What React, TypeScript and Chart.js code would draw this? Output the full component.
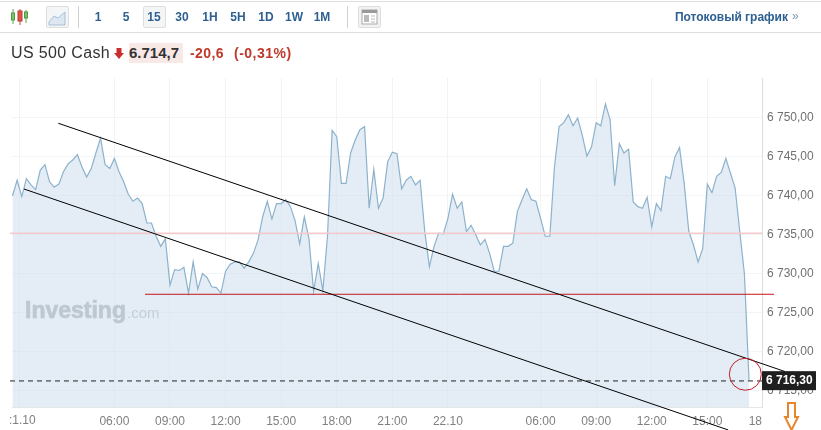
import React, { useEffect, useRef } from "react";
import { Chart, registerables } from "chart.js";

Chart.register(...registerables);

const prices = [
  6740.0, 6742.0, 6739.9, 6742.2, 6741.4, 6740.8, 6743.3, 6744.0, 6741.8, 6741.1,
  6741.5, 6743.1, 6744.1, 6744.6, 6745.3, 6743.7, 6742.4, 6743.5, 6745.5, 6747.4,
  6744.0, 6743.5, 6744.8, 6743.1, 6741.8, 6740.2, 6739.3, 6739.7, 6739.0, 6736.5,
  6736.5, 6734.8, 6733.5, 6734.5, 6728.5, 6730.5, 6730.4, 6730.8, 6727.5, 6731.5,
  6728.0, 6730.0, 6729.5, 6728.3, 6728.2, 6727.5, 6730.3, 6731.2, 6731.5, 6731.5,
  6730.7, 6731.5, 6732.6, 6734.3, 6737.3, 6739.3, 6737.0, 6739.0, 6739.0, 6739.5,
  6738.6, 6736.8, 6733.8, 6737.3, 6734.5, 6727.7, 6731.3, 6727.8, 6734.8, 6748.4,
  6747.6, 6741.6, 6741.6, 6745.5, 6747.2, 6748.5, 6748.9, 6738.4, 6743.4, 6738.4,
  6739.7, 6744.4, 6745.6, 6745.4, 6740.9, 6742.0, 6742.5, 6741.4, 6742.0, 6735.4,
  6730.9, 6733.5, 6735.2, 6735.1, 6737.1, 6740.2, 6738.4, 6739.2, 6735.4, 6736.2,
  6735.0, 6733.7, 6734.4, 6732.6, 6730.3, 6730.3, 6733.5, 6733.5, 6733.9, 6738.0,
  6739.5, 6740.9, 6739.5, 6739.3, 6737.1, 6734.8, 6734.8, 6743.7, 6748.9, 6749.4,
  6750.4, 6749.0, 6750.0, 6747.8, 6745.1, 6746.3, 6749.4, 6749.0, 6751.8, 6749.8,
  6741.3, 6746.7, 6745.5, 6746.0, 6739.2, 6738.6, 6738.4, 6739.8, 6736.0, 6739.0,
  6738.1, 6742.5, 6742.2, 6745.0, 6746.2, 6741.6, 6735.4, 6733.7, 6731.5, 6733.2,
  6741.5, 6740.4, 6742.5, 6743.0, 6744.8, 6742.9, 6741.0, 6735.4, 6730.0, 6716.3,
];
const yTicks = [6715, 6720, 6725, 6730, 6735, 6740, 6745, 6750];
const xTickPositions = [1.47, 22, 34, 46, 58, 70, 82, 94, 114, 126, 138, 150, 161.8];
const xTickLabels = [
  ":1.10", "06:00", "09:00", "12:00", "15:00", "18:00", "21:00", "22.10",
  "06:00", "09:00", "12:00", "15:00", "18    ",
];
const upperTrend = [{ x: 9.89, y: 6749.32 }, { x: 166.8, y: 6717.4 }];
const lowerTrend = [{ x: 2.48, y: 6740.87 }, { x: 154.5, y: 6709.9 }];
const redLevel = [{ x: 28.6, y: 6727.34 }, { x: 164.4, y: 6727.34 }];
const pinkLevel = [{ x: -0.54, y: 6735.18 }, { x: 161.8, y: 6735.18 }];
const lastLevel = [{ x: -0.54, y: 6716.2 }, { x: 161.8, y: 6716.2 }];
const circleMark = [{ x: 158.2, y: 6717.06 }];
const lastLabel = "6 716,30";
const timeframes = ["1", "5", "15", "30", "1H", "5H", "1D", "1W", "1M"];
const FONT = '"Liberation Sans", Arial, sans-serif';

const overlay: any = {
  id: "overlay",
  beforeDatasetsDraw(chart: any) {
    const c = chart.ctx;
    c.save();
    c.textBaseline = "alphabetic";
    c.textAlign = "left";
    c.fillStyle = "#a9adb1";
    c.strokeStyle = "#a9adb1";
    c.lineWidth = 0.7;
    c.font = `bold 23px ${FONT}`;
    c.fillText("Investing", 25, 318);
    c.strokeText("Investing", 25, 318);
    const w = c.measureText("Investing").width;
    c.font = `15px ${FONT}`;
    c.fillStyle = "#b4bbc2";
    c.fillText(".com", 26 + w, 318);
    c.restore();
  },
  afterDraw(chart: any) {
    const c = chart.ctx;
    const y = chart.scales.y.getPixelForValue(prices[prices.length - 1]);
    c.save();
    c.fillStyle = "#808080";
    c.font = `12px ${FONT}`;
    c.textAlign = "center";
    c.textBaseline = "middle";
    c.fillText(xTickLabels[0], chart.scales.x.getPixelForValue(xTickPositions[0]) + 3, 421);
    c.fillStyle = "#1f1f1f";
    c.fillRect(762, y - 9, 54, 19);
    c.fillStyle = "#fff";
    c.font = `bold 12px ${FONT}`;
    c.textAlign = "left";
    c.fillText(lastLabel, 766, y + 1);
    c.strokeStyle = "#e8862e";
    c.lineWidth = 2;
    c.beginPath();
    c.moveTo(788, 403);
    c.lineTo(795, 403);
    c.lineTo(795, 417);
    c.lineTo(798, 417);
    c.lineTo(791.5, 430);
    c.lineTo(785, 417);
    c.lineTo(788, 417);
    c.closePath();
    c.stroke();
    c.restore();
  },
};

function Candles() {
  return (
    <svg width="20" height="18" style={{ position: "absolute", left: 10, top: 8 }}>
      <path d="M3 1V16" stroke="#5aa84e" />
      <rect x="1.5" y="5" width="3" height="7" fill="#7cc36a" stroke="#4e9a44" />
      <path d="M10 1V17" stroke="#c9463e" />
      <rect x="8" y="3" width="4" height="10" fill="#e0554b" stroke="#b93c34" />
      <path d="M16 2V15" stroke="#5aa84e" />
      <rect x="14.5" y="4" width="3" height="6" fill="#7cc36a" stroke="#4e9a44" />
    </svg>
  );
}

function Header() {
  const blue = "#2d5f91";
  const box: React.CSSProperties = {
    position: "absolute", top: 6, height: 20, border: "1px solid #dedede",
    background: "#f4f5f6", borderRadius: 2, boxSizing: "content-box",
  };
  return (
    <div style={{ position: "absolute", left: 0, top: 0, width: 821, height: 75, fontFamily: FONT }}>
      <div style={{ position: "absolute", left: 0, top: 1, width: 821, height: 1, background: "#dedede" }} />
      <div style={{ position: "absolute", left: 0, top: 32, width: 821, height: 1, background: "#dedede" }} />
      <Candles />
      <div style={{ ...box, left: 46, width: 21 }}>
        <svg width="21" height="20">
          <path d="M2 15L7 9L11 11L18 5V18H2Z" fill="#dce7f2" stroke="#a9bfd6" />
        </svg>
      </div>
      <div style={{ position: "absolute", left: 78, top: 6, width: 1, height: 22, background: "#d0d0d0" }} />
      <div style={{ ...box, left: 143, width: 21 }} />
      {timeframes.map((t, i) => (
        <div key={t} style={{
          position: "absolute", left: 98 + i * 28 - 14, width: 28, top: 9, textAlign: "center",
          fontSize: 12, lineHeight: "16px", fontWeight: 700, color: blue,
        }}>{t}</div>
      ))}
      <div style={{ position: "absolute", left: 347, top: 6, width: 1, height: 22, background: "#d0d0d0" }} />
      <div style={{ ...box, left: 358, width: 21, background: "#f2f2f2" }}>
        <svg width="21" height="20">
          <rect x="3" y="3" width="15" height="14" fill="#fff" stroke="#aaa" />
          <rect x="3" y="3" width="15" height="3" fill="#999" />
          <rect x="5" y="8" width="5" height="7" fill="#bbb" />
          <path d="M12 9H16M12 12H16M12 15H16" stroke="#bbb" />
        </svg>
      </div>
      <div style={{
        position: "absolute", left: 600, width: 188, top: 9, textAlign: "right",
        fontSize: 12, lineHeight: "16px", fontWeight: 700, color: blue,
      }}>Потоковый график</div>
      <div style={{ position: "absolute", left: 792, top: 8, fontSize: 12, lineHeight: "16px", color: "#7f9ab5" }}>»</div>

      <div style={{ position: "absolute", left: 11, top: 44, fontSize: 16, lineHeight: "18px", color: "#333", letterSpacing: 0.35, whiteSpace: "nowrap" }}>US 500 Cash</div>
      <svg width="10" height="11" style={{ position: "absolute", left: 114, top: 48 }}>
        <path d="M2.5 0H7.5V5H10L5 11L0 5H2.5Z" fill="#c9302c" />
      </svg>
      <div style={{
        position: "absolute", left: 129, top: 43, width: 54, height: 20, background: "#f9e9e6",
        fontSize: 15, lineHeight: "20px", fontWeight: 700, color: "#333", whiteSpace: "nowrap",
      }}>6.714,7</div>
      <div style={{ position: "absolute", left: 190, top: 44, fontSize: 14, lineHeight: "18px", fontWeight: 700, color: "#c0392b", whiteSpace: "nowrap", letterSpacing: 0.4 }}>-20,6</div>
      <div style={{ position: "absolute", left: 234, top: 44, fontSize: 14, lineHeight: "18px", fontWeight: 700, color: "#c0392b", whiteSpace: "nowrap", letterSpacing: 0.5 }}>(-0,31%)</div>
    </div>
  );
}

export default function App() {
  const ref = useRef<HTMLCanvasElement>(null);
  useEffect(() => {
    if (!ref.current) return;
    const overlayLine = (data: any, color: string, width: number, dash: number[] = []) => ({
      data, borderColor: color, borderWidth: width, borderDash: dash,
      pointRadius: 0, fill: false, tension: 0, clip: false,
    });
    const chart = new Chart(ref.current, {
      type: "line",
      data: {
        datasets: [
          {
            data: circleMark, showLine: false, pointStyle: "circle", pointRadius: 16,
            pointBorderColor: "#c0202a", pointBackgroundColor: "transparent", pointBorderWidth: 1, clip: false,
          },
          overlayLine(upperTrend, "#000", 1),
          overlayLine(lowerTrend, "#000", 1),
          overlayLine(lastLevel, "#222", 1, [5, 4]),
          overlayLine(redLevel, "#c4161c", 1),
          overlayLine(pinkLevel, "#f6c9cc", 1.5),
          {
            data: prices.map((y, x) => ({ x, y })),
            borderColor: "#8cb2cc", borderWidth: 1.2, backgroundColor: "rgba(205,222,236,0.55)",
            fill: "start", pointRadius: 0, tension: 0,
          },
        ] as any,
      },
      options: {
        animation: false,
        responsive: false,
        events: [],
        layout: { autoPadding: false, padding: { left: 12, top: 78, right: 0, bottom: 0 } },
        plugins: { legend: { display: false }, tooltip: { enabled: false }, title: { display: false } },
        scales: {
          x: {
            type: "linear",
            min: -0.108,
            max: 161.8,
            afterBuildTicks: (s: any) => { s.ticks = xTickPositions.map((value) => ({ value })); },
            afterFit: (s: any) => { s.height = 23; },
            grid: { color: "#f1f3f5", drawTicks: false },
            border: { color: "#e4e6e8" },
            ticks: {
              autoSkip: false, maxRotation: 0, padding: 7, color: "#808080",
              font: { family: FONT, size: 12 },
              callback: (v: any) => {
                const i = xTickPositions.indexOf(Number(v));
                return i > 0 ? xTickLabels[i] : "";
              },
            },
          },
          y: {
            position: "right",
            min: 6712.85,
            max: 6755.14,
            afterBuildTicks: (s: any) => { s.ticks = yTicks.map((value) => ({ value })); },
            afterFit: (s: any) => { s.width = 59; },
            grid: { color: "#f3f4f5", drawTicks: false },
            border: { color: "#dcdfe2" },
            ticks: {
              padding: 5, color: "#707070", font: { family: FONT, size: 12 },
              callback: (v: any) => `${String(v)[0]} ${String(v).slice(1)},00`,
            },
          },
        },
      } as any,
      plugins: [overlay],
    });
    return () => chart.destroy();
  }, []);
  return (
    <div style={{ position: "fixed", left: 0, top: 0, width: 821, height: 430, background: "#fff", overflow: "hidden" }}>
      <canvas ref={ref} width={821} height={430} style={{ position: "absolute", left: 0, top: 0, display: "block" }} />
      <Header />
    </div>
  );
}
